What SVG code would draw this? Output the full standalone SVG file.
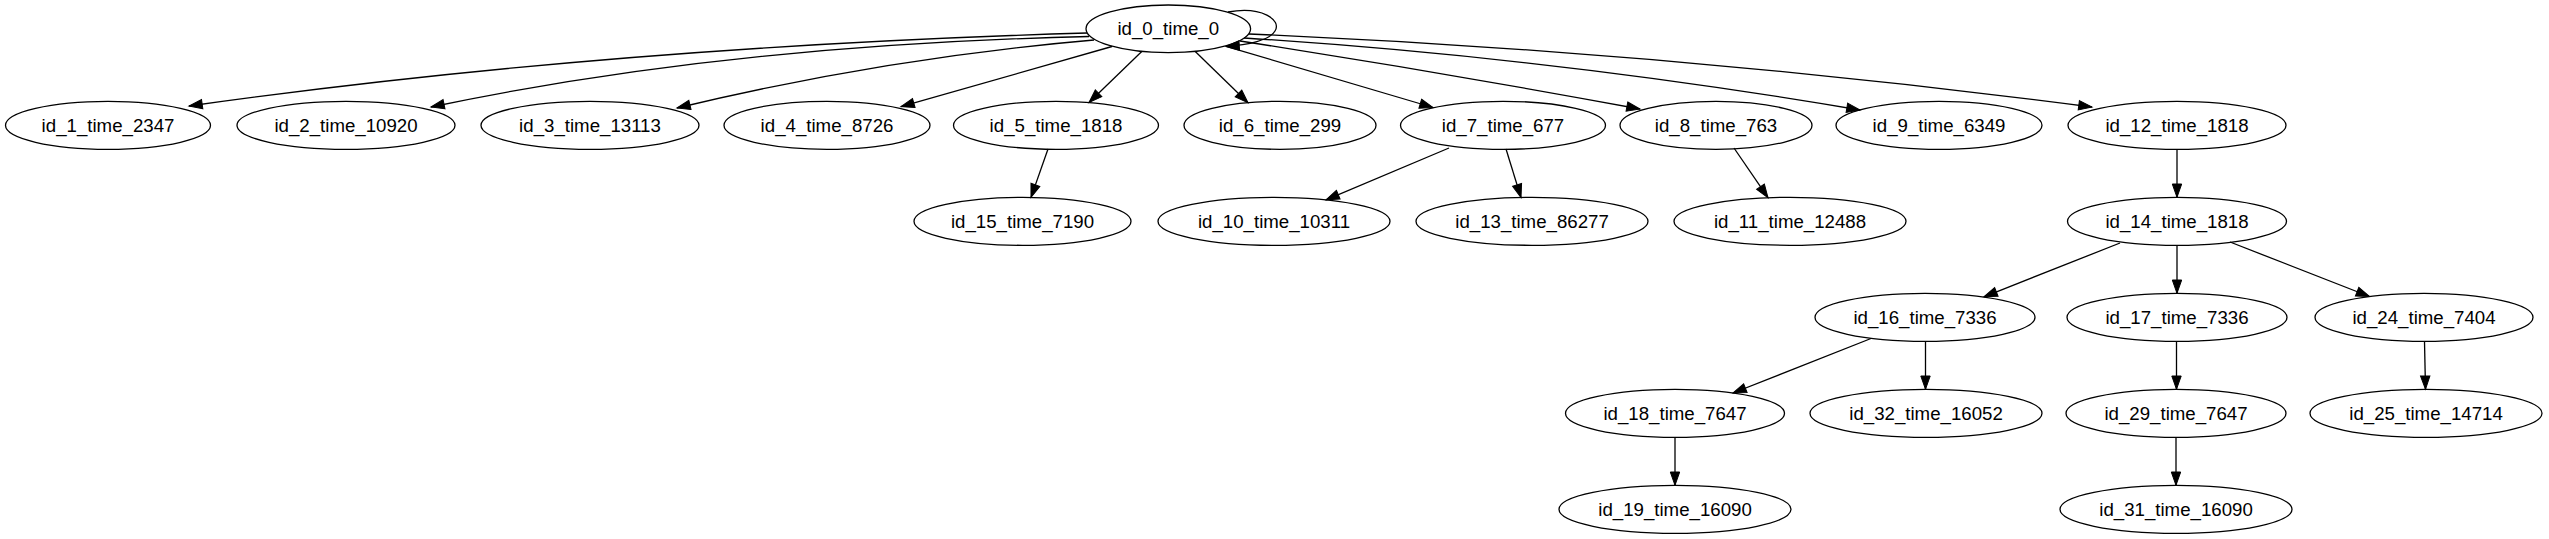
<svg xmlns="http://www.w3.org/2000/svg" width="2549" height="539" viewBox="0 0 2549 539">
<style>
.n ellipse{fill:none;stroke:#000;stroke-width:1.3}
.n text{font-family:"Liberation Sans",Arial,sans-serif;font-size:18.67px;text-anchor:middle;fill:#000}
.e path{fill:none;stroke:#000;stroke-width:1.3;marker-end:url(#ah)}
</style>
<defs>
<marker id="ah" markerWidth="14" markerHeight="10" refX="13.3" refY="4.7" orient="auto" markerUnits="userSpaceOnUse" overflow="visible"><path d="M0,0 L13.3,4.7 L0,9.4 z" fill="#000" stroke="#000" stroke-width="1"/></marker>
</defs>
<rect width="2549" height="539" fill="#fff"/>
<g id="edges" class="e">
<path d="M1228,12 C1262,6 1282,20 1275,31 C1270,40 1248,45 1226,46.3"/>
<path d="M1087,33 Q608,47 189,106"/>
<path d="M1089,36.5 Q726,45 431,107"/>
<path d="M1094,40 Q885,58 677,108"/>
<path d="M1112,46.5 L901,106.7"/>
<path d="M1142,51.3 L1089,102.5"/>
<path d="M1195,51.3 L1248,102.7"/>
<path d="M1226,46.3 L1433,107.5"/>
<path d="M1240,41 Q1440,72 1640,109"/>
<path d="M1244,38 Q1552,57.6 1860,110"/>
<path d="M1249,34 Q1671,52 2092,107"/>
<path d="M1048,149 L1031,197.4"/>
<path d="M1449,148 L1326,199.8"/>
<path d="M1506,149 L1521,197.6"/>
<path d="M1734,148 L1768,197.7"/>
<path d="M2177,149.3 L2177,197.3"/>
<path d="M2120,243 L1984,296.8"/>
<path d="M2177,245.3 L2177,293.3"/>
<path d="M2230,242 L2369.5,296.5"/>
<path d="M1871,338.5 L1733,393"/>
<path d="M1925.5,341.3 L1925.5,389.3"/>
<path d="M2176.5,341.3 L2176.5,389.3"/>
<path d="M2424.5,341.3 L2425.5,389.3"/>
<path d="M1675,437.3 L1675,485.3"/>
<path d="M2176,437.3 L2176,485.3"/>
</g>
<g id="id_0" class="n"><ellipse cx="1168.3" cy="28.8" rx="82.3" ry="23.8"/><text x="1168.3" y="35.3">id_0_time_0</text></g>
<g id="id_1" class="n"><ellipse cx="108" cy="125.3" rx="102.5" ry="24"/><text x="108" y="131.8">id_1_time_2347</text></g>
<g id="id_2" class="n"><ellipse cx="346" cy="125.3" rx="109" ry="24"/><text x="346" y="131.8">id_2_time_10920</text></g>
<g id="id_3" class="n"><ellipse cx="590" cy="125.3" rx="109" ry="24"/><text x="590" y="131.8">id_3_time_13113</text></g>
<g id="id_4" class="n"><ellipse cx="827" cy="125.3" rx="103" ry="24"/><text x="827" y="131.8">id_4_time_8726</text></g>
<g id="id_5" class="n"><ellipse cx="1056" cy="125.3" rx="102.5" ry="24"/><text x="1056" y="131.8">id_5_time_1818</text></g>
<g id="id_6" class="n"><ellipse cx="1280" cy="125.3" rx="96" ry="24"/><text x="1280" y="131.8">id_6_time_299</text></g>
<g id="id_7" class="n"><ellipse cx="1503" cy="125.3" rx="102.5" ry="24"/><text x="1503" y="131.8">id_7_time_677</text></g>
<g id="id_8" class="n"><ellipse cx="1716" cy="125.3" rx="96" ry="24"/><text x="1716" y="131.8">id_8_time_763</text></g>
<g id="id_9" class="n"><ellipse cx="1939" cy="125.3" rx="103" ry="24"/><text x="1939" y="131.8">id_9_time_6349</text></g>
<g id="id_12" class="n"><ellipse cx="2177" cy="125.3" rx="109" ry="24"/><text x="2177" y="131.8">id_12_time_1818</text></g>
<g id="id_15" class="n"><ellipse cx="1022.5" cy="221.3" rx="108.5" ry="24"/><text x="1022.5" y="227.8">id_15_time_7190</text></g>
<g id="id_10" class="n"><ellipse cx="1274" cy="221.3" rx="116" ry="24"/><text x="1274" y="227.8">id_10_time_10311</text></g>
<g id="id_13" class="n"><ellipse cx="1532" cy="221.3" rx="116" ry="24"/><text x="1532" y="227.8">id_13_time_86277</text></g>
<g id="id_11" class="n"><ellipse cx="1790" cy="221.3" rx="116" ry="24"/><text x="1790" y="227.8">id_11_time_12488</text></g>
<g id="id_14" class="n"><ellipse cx="2177" cy="221.3" rx="109.5" ry="24"/><text x="2177" y="227.8">id_14_time_1818</text></g>
<g id="id_16" class="n"><ellipse cx="1925" cy="317.3" rx="110" ry="24"/><text x="1925" y="323.8">id_16_time_7336</text></g>
<g id="id_17" class="n"><ellipse cx="2177" cy="317.3" rx="110" ry="24"/><text x="2177" y="323.8">id_17_time_7336</text></g>
<g id="id_24" class="n"><ellipse cx="2424" cy="317.3" rx="109" ry="24"/><text x="2424" y="323.8">id_24_time_7404</text></g>
<g id="id_18" class="n"><ellipse cx="1675" cy="413.3" rx="109.5" ry="24"/><text x="1675" y="419.8">id_18_time_7647</text></g>
<g id="id_32" class="n"><ellipse cx="1926" cy="413.3" rx="116" ry="24"/><text x="1926" y="419.8">id_32_time_16052</text></g>
<g id="id_29" class="n"><ellipse cx="2176" cy="413.3" rx="110" ry="24"/><text x="2176" y="419.8">id_29_time_7647</text></g>
<g id="id_25" class="n"><ellipse cx="2426" cy="413.3" rx="116" ry="24"/><text x="2426" y="419.8">id_25_time_14714</text></g>
<g id="id_19" class="n"><ellipse cx="1675" cy="509.3" rx="116" ry="24"/><text x="1675" y="515.8">id_19_time_16090</text></g>
<g id="id_31" class="n"><ellipse cx="2176" cy="509.3" rx="116" ry="24"/><text x="2176" y="515.8">id_31_time_16090</text></g>
</svg>
